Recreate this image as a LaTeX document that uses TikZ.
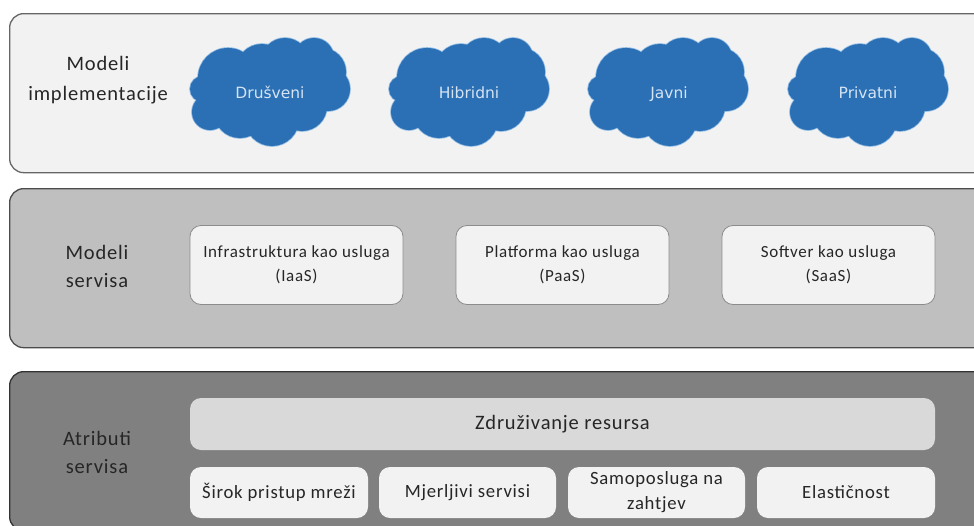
\documentclass[tikz,border=0pt]{standalone}
\usepackage{fontspec}
\setmainfont{Carlito}[LetterSpace=4]
\newfontfamily\cloudfont{DejaVu Sans}
\definecolor{cloudblue}{HTML}{2B6FB5}
\definecolor{cloudedge}{HTML}{8FBBE3}
\definecolor{cloudtext}{HTML}{D5E4F2}
\definecolor{ink}{HTML}{262626}
\tikzset{
  panel/.style={draw=#1,line width=1.3pt,rounded corners=14pt,anchor=north west,inner sep=0pt},
  svcbox/.style={draw=black!45,line width=.8pt,fill=white!95!black,rounded corners=11pt,inner sep=0pt,
     minimum width=213pt,minimum height=79pt,align=center,font=\fontsize{17}{23.5}\selectfont,text=ink},
  attrbox/.style={fill=white!95!black,rounded corners=11pt,inner sep=0pt,minimum height=51pt,
     align=center,font=\fontsize{18.7}{25}\selectfont,text=ink},
  headlabel/.style={align=center,font=\fontsize{20.5}{28}\selectfont,text=ink,inner sep=0pt},
  cloudlabel/.style={font=\cloudfont\fontsize{15.5}{18}\selectfont,text=cloudtext,inner sep=0pt,anchor=base},
}
\newcommand{\cloudat}[1]{%
  \begin{scope}[xshift=#1pt]
    \foreach \cx/\cy/\r in {203/89/13,210/112/18,240/112/26,272/119/27,302/106/25,328/89/22,322/72/24,314/58/20,285/62/24,262/70/26,228/78/30,270/90/40}
      \draw[cloudedge,line width=1.6pt] (\cx,\cy) circle[radius=\r];
    \foreach \cx/\cy/\r in {203/89/13,210/112/18,240/112/26,272/119/27,302/106/25,328/89/22,322/72/24,314/58/20,285/62/24,262/70/26,228/78/30,270/90/40}
      \fill[cloudblue] (\cx,\cy) circle[radius=\r];
  \end{scope}}
\begin{document}
\begin{tikzpicture}[x=1pt,y=-1pt]
\useasboundingbox (0,0) rectangle (974,525);
\clip (0,0) rectangle (974,525);
\fill[white] (0,0) rectangle (974,525);
\node[panel=black!60,fill=white!95!black,minimum width=990pt,minimum height=159pt] (p1) at (9,13) {};
\node[panel=black!70,fill=black!25,minimum width=990pt,minimum height=159pt] (p2) at (9,188) {};
\node[panel=black!80,fill=black!50,minimum width=990pt,minimum height=159pt] (p3) at (9,371) {};

\cloudat{0}\cloudat{199}\cloudat{398}\cloudat{598}
\node[cloudlabel] (c1) at (270,98) {Drušveni};
\node[cloudlabel] (c2) at (469,98) {Hibridni};
\node[cloudlabel] (c3) at (669,98) {Javni};
\node[cloudlabel] (c4) at (868,98) {Privatni};

\node[headlabel,font=\fontsize{20.5}{30}\selectfont] (h1) at (98,80) {Modeli\\implementacije};
\node[headlabel] (h2) at (97,266) {Modeli\\servisa};
\node[headlabel] (h3) at (97,452) {Atributi\\servisa};

\node[svcbox] (s1) at (296.5,265) {Infrastruktura kao usluga\\(IaaS)};
\node[svcbox] (s2) at (562.5,265) {Platforma kao usluga\\(PaaS)};
\node[svcbox] (s3) at (828.5,265) {Softver kao usluga\\(SaaS)};

\node[attrbox,fill=black!15,minimum width=745pt,minimum height=52pt,font=\fontsize{20.5}{25}\selectfont] (a0) at (562.5,424) {Združivanje resursa};
\node[attrbox,minimum width=178pt] (a1) at (279,492.5) {Širok pristup mreži};
\node[attrbox,minimum width=177pt] (a2) at (467.5,492.5) {Mjerljivi servisi};
\node[attrbox,minimum width=177pt] (a3) at (656.5,492.5) {Samoposluga na\\zahtjev};
\node[attrbox,minimum width=178pt] (a4) at (846,492.5) {Elastičnost};
\end{tikzpicture}
\end{document}
